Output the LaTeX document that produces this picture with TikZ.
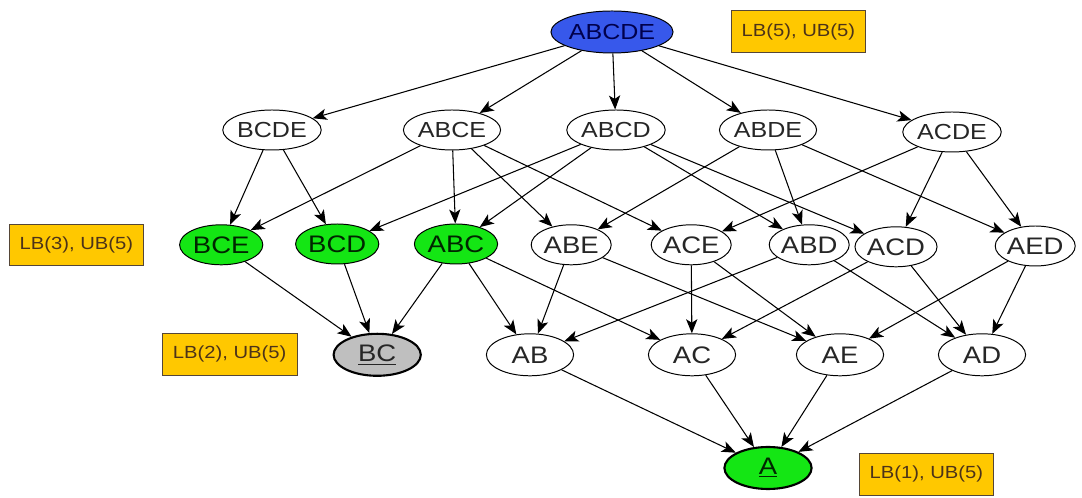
\documentclass[tikz,border=0pt]{standalone}
\usepackage{fontspec}
\setmainfont{Liberation Sans}[FakeStretch=1.15]
\usetikzlibrary{arrows.meta, shapes.geometric}
\definecolor{topblue}{RGB}{55, 88, 235}
\definecolor{hitgreen}{RGB}{20, 230, 20}
\definecolor{boundgold}{RGB}{255, 200, 0}
\definecolor{boundedge}{RGB}{85, 70, 55}

\begin{document}
\begin{tikzpicture}[
        set/.style={ellipse, draw, line width=0.7pt, inner sep=0pt, fill=white,
            minimum width=2.0cm, minimum height=1.0cm, text=black!85,
            font=\fontsize{17}{19}\selectfont},
        bigset/.style={set, minimum width=2.43cm,
            font=\fontsize{15.5}{17}\selectfont},
        pairset/.style={set, minimum width=2.18cm, minimum height=1.05cm},
        found/.style={fill=hitgreen, text=black!85!green},
        best/.style={line width=1.5pt},
        bound/.style={draw=boundedge, line width=0.7pt, fill=boundgold,
            text=brown!40!black, inner sep=0pt,
            minimum width=3.33cm, minimum height=1.03cm,
            font=\fontsize{12.5}{14}\selectfont},
        edge/.style={-{Stealth[length=10pt, width=8pt, inset=2.5pt]},
            line width=0.75pt}
    ]
    \useasboundingbox (0, 0) rectangle (27.05, 12.45);

    % lattice, top to bottom
    \node[bigset, minimum width=2.95cm, minimum height=1.05cm, fill=topblue,
        text=blue!30!black] (abcde) at (15.3, 11.65) {ABCDE};

    \node[bigset] (bcde) at (6.8, 9.2) {BCDE};
    \node[bigset] (abce) at (11.3, 9.2) {ABCE};
    \node[bigset] (abcd) at (15.4, 9.2) {ABCD};
    \node[bigset] (abde) at (19.2, 9.2) {ABDE};
    \node[bigset] (acde) at (23.8, 9.15) {ACDE};

    \node[set, found, minimum width=2.08cm] (bce) at (5.53, 6.33) {BCE};
    \node[set, found, minimum width=2.08cm] (bcd) at (8.43, 6.35) {BCD};
    \node[set, found, minimum width=2.08cm] (abc) at (11.4, 6.35) {ABC};
    \node[set] (abe) at (14.28, 6.33) {ABE};
    \node[set] (ace) at (17.28, 6.33) {ACE};
    \node[set] (abd) at (20.23, 6.33) {ABD};
    \node[set] (acd) at (22.4, 6.28) {ACD};
    \node[set] (aed) at (25.88, 6.3) {AED};

    \node[pairset, best, fill=black!25] (bc) at (9.43, 3.58) {\underline{BC}};
    \node[pairset] (ab) at (13.25, 3.58) {AB};
    \node[pairset] (ac) at (17.3, 3.58) {AC};
    \node[pairset] (ae) at (21.0, 3.58) {AE};
    \node[pairset] (ad) at (24.55, 3.58) {AD};

    \node[pairset, best, found] (a) at (19.2, 0.75) {\underline{A}};

    % bounds
    \node[bound] (lbfive) at (19.96, 11.66) {LB(5), UB(5)};
    \node[bound] (lbthree) at (1.91, 6.33) {LB(3), UB(5)};
    \node[bound, minimum width=3.38cm, minimum height=1.05cm] (lbtwo)
        at (5.74, 3.6) {LB(2), UB(5)};
    \node[bound, minimum height=1.05cm] (lbone) at (23.16, 0.6) {LB(1), UB(5)};

    % edges
    \draw[edge] (abcde) -- (bcde);
    \draw[edge] (abcde) -- (abce);
    \draw[edge] (abcde) -- (abcd);
    \draw[edge] (abcde) -- (abde);
    \draw[edge] (abcde) -- (acde);

    \draw[edge] (bcde) -- (bce);
    \draw[edge] (bcde) -- (bcd);
    \draw[edge] (abce) -- (bce);
    \draw[edge] (abce) -- (abc);
    \draw[edge] (abce) -- (abe);
    \draw[edge] (abce) -- (ace);
    \draw[edge] (abcd) -- (bcd);
    \draw[edge] (abcd) -- (abc);
    \draw[edge] (abcd) -- (abd);
    \draw[edge] (abcd) -- (acd);
    \draw[edge] (abde) -- (abe);
    \draw[edge] (abde) -- (abd);
    \draw[edge] (abde) -- (aed);
    \draw[edge] (acde) -- (ace);
    \draw[edge] (acde) -- (acd);
    \draw[edge] (acde) -- (aed);

    \draw[edge] (bce) -- (bc);
    \draw[edge] (bcd) -- (bc);
    \draw[edge] (abc) -- (bc);
    \draw[edge] (abc) -- (ab);
    \draw[edge] (abc) -- (ac);
    \draw[edge] (abe) -- (ab);
    \draw[edge] (abe) -- (ae);
    \draw[edge] (ace) -- (ac);
    \draw[edge] (ace) -- (ae);
    \draw[edge] (abd) -- (ab);
    \draw[edge] (abd) -- (ad);
    \draw[edge] (acd) -- (ac);
    \draw[edge] (acd) -- (ad);
    \draw[edge] (aed) -- (ae);
    \draw[edge] (aed) -- (ad);

    \draw[edge] (ab) -- (a);
    \draw[edge] (ac) -- (a);
    \draw[edge] (ae) -- (a);
    \draw[edge] (ad) -- (a);
\end{tikzpicture}
\end{document}
